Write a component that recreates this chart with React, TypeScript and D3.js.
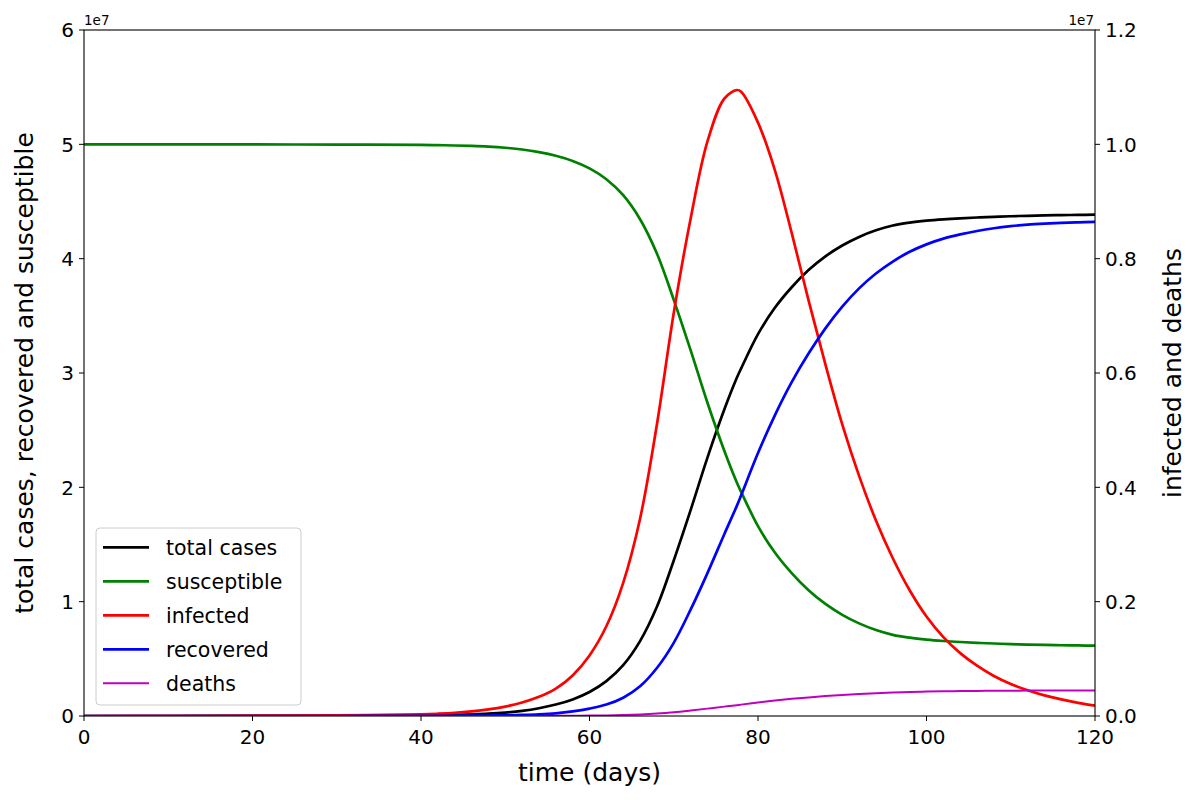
import React from "react";
import * as d3 from "d3";

const days = [0, 10, 20, 30, 40, 42, 44, 46, 48, 50, 52, 54, 56, 58, 60, 62, 64, 66, 68, 70, 72, 74, 76, 77.5, 78, 80, 82, 84, 86, 88, 90, 92, 94, 96, 98, 100, 102, 104, 106, 108, 110, 112, 114, 116, 118, 120];

// left axis, units of 1e7
const totalCases = [0, 0, 0.001, 0.002, 0.005, 0.007, 0.01, 0.014, 0.02, 0.03, 0.045, 0.068, 0.1, 0.145, 0.21, 0.305, 0.445, 0.655, 0.955, 1.36, 1.8, 2.26, 2.68, 2.96, 3.04, 3.34, 3.57, 3.75, 3.9, 4.02, 4.115, 4.19, 4.248, 4.29, 4.315, 4.332, 4.344, 4.353, 4.36, 4.366, 4.371, 4.375, 4.378, 4.381, 4.383, 4.385];
const susceptible = [5.0, 5.0, 4.999, 4.998, 4.995, 4.993, 4.99, 4.986, 4.98, 4.97, 4.955, 4.932, 4.9, 4.855, 4.79, 4.695, 4.555, 4.345, 4.045, 3.64, 3.2, 2.74, 2.32, 2.04, 1.96, 1.66, 1.43, 1.25, 1.1, 0.98, 0.885, 0.81, 0.752, 0.71, 0.685, 0.668, 0.656, 0.647, 0.64, 0.634, 0.629, 0.625, 0.622, 0.619, 0.617, 0.615];
const recovered = [0, 0, 0, 0, 0.001, 0.001, 0.002, 0.003, 0.004, 0.006, 0.009, 0.014, 0.023, 0.04, 0.065, 0.1, 0.16, 0.26, 0.42, 0.64, 0.93, 1.25, 1.59, 1.84, 1.93, 2.3, 2.63, 2.92, 3.17, 3.39, 3.58, 3.74, 3.87, 3.975, 4.06, 4.125, 4.175, 4.212, 4.242, 4.266, 4.284, 4.297, 4.306, 4.313, 4.318, 4.322];

// right axis, units of 1e6
const infected = [0, 0.002, 0.005, 0.01, 0.03, 0.04, 0.055, 0.08, 0.115, 0.165, 0.235, 0.335, 0.48, 0.71, 1.06, 1.57, 2.33, 3.45, 5.1, 7.05, 8.7, 10.05, 10.8, 10.95, 10.92, 10.38, 9.55, 8.45, 7.27, 6.15, 5.1, 4.2, 3.42, 2.76, 2.2, 1.74, 1.38, 1.1, 0.88, 0.7, 0.56, 0.45, 0.36, 0.29, 0.23, 0.18];
const deaths = [0, 0, 0, 0, 0, 0, 0, 0, 0, 0.001, 0.001, 0.002, 0.003, 0.004, 0.007, 0.01, 0.016, 0.027, 0.043, 0.066, 0.096, 0.129, 0.164, 0.19, 0.199, 0.237, 0.27, 0.3, 0.325, 0.348, 0.368, 0.386, 0.4, 0.412, 0.42, 0.427, 0.432, 0.436, 0.439, 0.441, 0.443, 0.444, 0.445, 0.446, 0.447, 0.447];

const xTicks = [0, 20, 40, 60, 80, 100, 120];
const leftTicks = [0, 1, 2, 3, 4, 5, 6];
const rightTicks = [0, 0.2, 0.4, 0.6, 0.8, 1.0, 1.2];

const W = 1200, H = 800;
const L = 84, R = 1095, T = 30, B = 716;
const FONT = "DejaVu Sans, sans-serif";

export default function App() {
  React.useEffect(() => {
    document.body.style.margin = "0";
  }, []);

  const x = d3.scaleLinear().domain([0, 120]).range([L, R]);
  const yL = d3.scaleLinear().domain([0, 6]).range([B, T]);
  const yR = d3.scaleLinear().domain([0, 1.2]).range([B, T]);

  const mk = (vals: number[], y: (v: number) => number) =>
    d3.line<number>().x((_, i) => x(days[i])).y((v) => y(v)).curve(d3.curveCatmullRom.alpha(0.5))(vals) || "";

  const series = [
    { name: "total cases", color: "#000000", d: mk(totalCases, yL), w: 2.7 },
    { name: "susceptible", color: "#008000", d: mk(susceptible, yL), w: 2.7 },
    { name: "infected", color: "#ff0000", d: mk(infected, (v) => yR(v / 10)), w: 2.7 },
    { name: "recovered", color: "#0000ff", d: mk(recovered, yL), w: 2.7 },
    { name: "deaths", color: "#bf00bf", d: mk(deaths, (v) => yR(v / 10)), w: 2.0 },
  ];

  const legX = 96, legY = 528, legW = 205, legH = 177, rowH = 34;

  return (
    <svg width={W} height={H} style={{ display: "block", background: "#fff" }} fontFamily={FONT}>
      <rect x={0} y={0} width={W} height={H} fill="#fff" />
      <defs>
        <clipPath id="plotclip">
          <rect x={L} y={T} width={R - L} height={B - T} />
        </clipPath>
      </defs>
      <g clipPath="url(#plotclip)">
        {series.map((s) => (
          <path key={s.name} d={s.d} fill="none" stroke={s.color} strokeWidth={s.w} strokeLinejoin="round" strokeLinecap="butt" />
        ))}
      </g>
      <rect x={L} y={T} width={R - L} height={B - T} fill="none" stroke="#000" strokeWidth={1.1} />

      {xTicks.map((t) => (
        <g key={"x" + t}>
          <line x1={x(t)} x2={x(t)} y1={B} y2={B + 5} stroke="#000" strokeWidth={1} />
          <text x={x(t)} y={B + 28} fontSize={20} textAnchor="middle">{t}</text>
        </g>
      ))}
      {leftTicks.map((t) => (
        <g key={"l" + t}>
          <line x1={L - 5} x2={L} y1={yL(t)} y2={yL(t)} stroke="#000" strokeWidth={1} />
          <text x={L - 10} y={yL(t) + 7.3} fontSize={20} textAnchor="end">{t}</text>
        </g>
      ))}
      {rightTicks.map((t) => (
        <g key={"r" + t}>
          <line x1={R} x2={R + 5} y1={yR(t)} y2={yR(t)} stroke="#000" strokeWidth={1} />
          <text x={R + 10} y={yR(t) + 7.3} fontSize={20} textAnchor="start">{t.toFixed(1)}</text>
        </g>
      ))}
      <text x={L} y={T - 5} fontSize={13.5}>1e7</text>
      <text x={R - 1} y={T - 5} fontSize={13.5} textAnchor="end">1e7</text>

      <text x={(L + R) / 2} y={781} fontSize={25} textAnchor="middle">time (days)</text>
      <text transform={`translate(33,${(T + B) / 2}) rotate(-90)`} fontSize={25} textAnchor="middle">total cases, recovered and susceptible</text>
      <text transform={`translate(1181,${(T + B) / 2}) rotate(-90)`} fontSize={25} textAnchor="middle">infected and deaths</text>

      <rect x={legX} y={legY} width={legW} height={legH} rx={4} fill="#fff" fillOpacity={0.8} stroke="#cccccc" strokeWidth={1} />
      {series.map((s, i) => (
        <g key={"leg" + s.name}>
          <line x1={103} x2={149} y1={legY + 19.3 + i * rowH} y2={legY + 19.3 + i * rowH} stroke={s.color} strokeWidth={s.w} />
          <text x={166} y={legY + 26.5 + i * rowH} fontSize={20.5}>{s.name}</text>
        </g>
      ))}
    </svg>
  );
}
